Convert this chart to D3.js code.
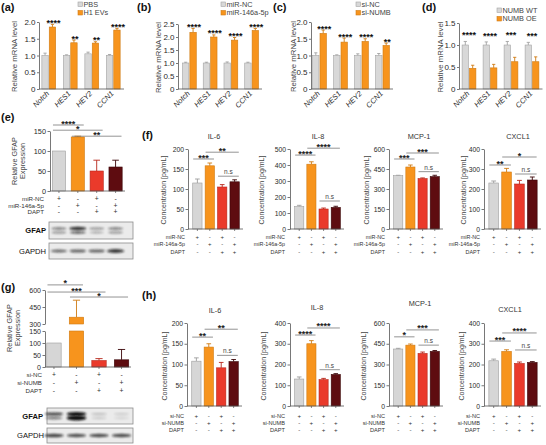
<!DOCTYPE html>
<html><head><meta charset="utf-8">
<script src="https://cdn.jsdelivr.net/npm/d3@7"></script>
<style>body{margin:0;background:#fff}svg{display:block}</style>
</head><body><svg id="c" width="546" height="445"></svg>
<script>
// ================= DATA =================
const genes = ["Notch","HES1","HEY2","CCN1"];
// (a)
const aLegend = ["PBS","H1 EVs"];
const aCtrl = [1.00,1.00,1.05,1.00], aCtrlErr = [0.07,0.02,0.05,0.03];
const aTreat = [1.85,1.38,1.37,1.76], aTreatErr = [0.08,0.08,0.04,0.05];
const aStars = ["****","**","**","****"];
const aTicks = [0,0.5,1.0,1.5,2.0];
// (b)
const bLegend = ["miR-NC","miR-146a-5p"];
const bCtrl = [1,1,1,1], bCtrlErr = [0.03,0.03,0.04,0.03];
const bTreat = [2.18,2.00,1.88,2.25], bTreatErr = [0.15,0.08,0.10,0.08];
const bStars = ["****","****","****","****"];
const bTicks = [0,0.5,1.0,1.5,2.0,2.5];
// (c)
const cLegend = ["si-NC","si-NUMB"];
const cCtrl = [1,1,1,1], cCtrlErr = [0.08,0.02,0.05,0.06];
const cTreat = [1.66,1.40,1.42,1.30], cTreatErr = [0.10,0.12,0.08,0.07];
const cStars = ["****","****","****","**"];
const cTicks = [0,0.5,1.0,1.5,2.0];
// (d)
const dLegend = ["NUMB WT","NUMB OE"];
const dCtrl = [1,1,1,1], dCtrlErr = [0.08,0.07,0.08,0.06];
const dTreat = [0.47,0.48,0.62,0.62], dTreatErr = [0.07,0.08,0.10,0.11];
const dStars = ["****","****","***","***"];
const dTicks = [0,0.5,1.0,1.5];

// conditions
const mirRows = ["miR-NC","miR-146a-5p","DAPT"];
const siRows = ["si-NC","si-NUMB","DAPT"];
const condSigns = [["+","-","+","-"],["-","+","-","+"],["-","-","+","+"]];

// (e) GFAP
const eVals = [100,135,50,60], eErrs = [0,2,27,17];
const eTicks = [0,50,100,150];
const eSigs = [{a:0,b:1,at:165,t:"****"},{a:0,b:2,at:152,t:"*"},{a:1,b:3,at:137,t:"**"}];
const eGfapUpper = [0.55,0.85,0.45,0.55], eGfapLower = [0.45,0.7,0.35,0.45];
const eGapdh = [0.6,0.62,0.62,0.8];

// (f)
const fTitles = ["IL-6","IL-8","MCP-1","CXCL1"];
const fVals = [[115,158,105,118],[140,405,125,135],[400,465,378,393],[230,285,225,245]];
const fErrs = [[10,7,6,5],[8,15,6,7],[3,15,5,10],[10,18,18,15]];
const fMax = [200,500,600,400];
const fTicks = [[0,50,100,150,200],[0,100,200,300,400,500],[0,150,300,450,600],[0,100,200,300,400]];
const fSigs = [
  [{a:0,b:1,at:175,t:"***"},{a:1,b:3,at:192,t:"**"},{a:2,b:3,at:132,t:"n.s"}],
  [{a:0,b:1,at:462,t:"****"},{a:1,b:3,at:505,t:"****"},{a:2,b:3,at:175,t:"n.s"}],
  [{a:0,b:1,at:525,t:"***"},{a:1,b:3,at:570,t:"***"},{a:2,b:3,at:430,t:"n.s"}],
  [{a:0,b:1,at:320,t:"**"},{a:1,b:3,at:360,t:"*"},{a:2,b:3,at:275,t:"n.s"}]];

// (g)
const gVals = [100,360,27,30], gErrs = [0,150,8,43];
const gLowTicks = [0,50,100,150], gHighTicks = [300,450,600];
const gSigs = [{a:0,b:1,at:645,t:"*"},{a:0,b:2,at:582,t:"***"},{a:1,b:3,at:538,t:"*"}];
const gGfapUpper = [0.75,1.0,0.22,0.15], gGfapLower = [0.5,1.0,0.15,0.1];
const gGapdh = [0.75,0.7,0.72,0.72];

// (h)
const hTitles = ["IL-6","IL-8","MCP-1","CXCL1"];
const hVals = [[108,142,92,107],[130,300,127,152],[412,440,380,395],[218,263,205,210]];
const hErrs = [[8,8,13,5],[10,15,6,4],[5,8,10,6],[8,8,7,4]];
const hMax = [200,400,600,400];
const hTicks = [[0,50,100,150,200],[0,100,200,300,400],[0,150,300,450,600],[0,100,200,300,400]];
const hSigs = [
  [{a:0,b:1,at:166,t:"**"},{a:1,b:3,at:185,t:"**"},{a:2,b:3,at:122,t:"n.s"}],
  [{a:0,b:1,at:342,t:"****"},{a:1,b:3,at:376,t:"****"},{a:2,b:3,at:175,t:"n.s"}],
  [{a:0,b:1,at:500,t:"*"},{a:1,b:3,at:550,t:"***"},{a:2,b:3,at:440,t:"n.s"}],
  [{a:0,b:1,at:313,t:"***"},{a:1,b:3,at:352,t:"****"},{a:2,b:3,at:270,t:"n.s"}]];

// ================= STYLE =================
const FONT = '"Liberation Sans", Arial, Helvetica, sans-serif';
const TXT = "#2a2a2a", AX = "#555";
const pairFill = ["#d8d8d8","#f7941d"], pairStroke = ["#a3a3a3","#cf7a12"];
const grpFill = ["#d6d6d6","#f7941d","#ea3a2b","#5e0c10"];
const grpStroke = ["#9d9d9d","#cf7a12","#b8271b","#3a0508"];

const svg = d3.select("#c").style("font-family", FONT);
const defs = svg.append("defs");
defs.append("filter").attr("id","blur").attr("x","-50%").attr("y","-200%").attr("width","200%").attr("height","500%")
  .append("feGaussianBlur").attr("stdDeviation",1.1);

function styleAxis(a, fs) {
  a.select(".domain").attr("stroke", AX).attr("stroke-width", 0.8);
  a.selectAll(".tick line").attr("stroke", AX).attr("stroke-width", 0.8);
  a.selectAll(".tick text").attr("fill", TXT).attr("font-size", fs).attr("font-family", FONT);
}
function letter(t, x, y) {
  svg.append("text").attr("x", x).attr("y", y).attr("font-size", 11).attr("font-weight", "bold")
    .attr("fill", "#111").text(t);
}
function yTitle(lines, x, y, fs) {
  const t = svg.append("text").attr("transform", `translate(${x},${y}) rotate(-90)`)
    .attr("text-anchor", "middle").attr("font-size", fs).attr("fill", "#444");
  lines.forEach((l, i) => t.append("tspan").attr("x", 0).attr("dy", i === 0 ? -(lines.length - 1) * fs * 0.55 : fs * 1.1).text(l));
}

// ---------- gene panels (a-d) ----------
function genePanel(o) {
  const g = svg.append("g");
  const x = d3.scaleBand().domain(genes).range(o.xr);
  const y = d3.scaleLinear().domain([0, o.max]).range([o.y0, o.yTop]);
  const bw = 6.4, gap = 1;
  const recs = [];
  genes.forEach((gn, i) => {
    const c = x(gn) + x.bandwidth() / 2;
    recs.push({k:0, i, x: c - gap / 2 - bw, v: o.ctrl[i], e: o.ctrlErr[i]});
    recs.push({k:1, i, x: c + gap / 2, v: o.treat[i], e: o.treatErr[i]});
  });
  g.selectAll("line.err").data(recs).join("line")
    .attr("x1", d => d.x + bw / 2).attr("x2", d => d.x + bw / 2)
    .attr("y1", d => y(d.v)).attr("y2", d => y(d.v + d.e))
    .attr("stroke", d => pairStroke[d.k]).attr("stroke-width", 0.9);
  g.selectAll("line.cap").data(recs).join("line")
    .attr("x1", d => d.x + bw / 2 - 1.6).attr("x2", d => d.x + bw / 2 + 1.6)
    .attr("y1", d => y(d.v + d.e)).attr("y2", d => y(d.v + d.e))
    .attr("stroke", d => pairStroke[d.k]).attr("stroke-width", 0.9);
  g.selectAll("rect.bar").data(recs).join("rect")
    .attr("x", d => d.x).attr("width", bw)
    .attr("y", d => y(d.v)).attr("height", d => y(0) - y(d.v))
    .attr("fill", d => pairFill[d.k]).attr("stroke", d => pairStroke[d.k]).attr("stroke-width", 0.6);
  g.selectAll("text.star").data(genes).join("text")
    .attr("x", (gn, i) => {
      const c = x(gn) + x.bandwidth() / 2;
      return (o.treat[i] >= o.ctrl[i] ? c + gap / 2 + bw / 2 + 1 : c);
    })
    .attr("y", (gn, i) => Math.min(y(o.ctrl[i] + o.ctrlErr[i]), y(o.treat[i] + o.treatErr[i])) + o.starDy)
    .attr("text-anchor", "middle").attr("font-size", 9).attr("font-weight", "bold").attr("fill", "#111")
    .text((gn, i) => o.stars[i]);
  const a = g.append("g").attr("transform", `translate(${o.ax},0)`)
    .call(d3.axisLeft(y).tickValues(o.ticks).tickSize(2).tickSizeOuter(0).tickPadding(1.5)
      .tickFormat(d => d === 0 ? "0" : d3.format(".1f")(d)));
  styleAxis(a, 8);
  g.append("line").attr("x1", o.ax).attr("x2", o.xr[1]).attr("y1", o.y0).attr("y2", o.y0)
    .attr("stroke", AX).attr("stroke-width", 0.8);
  g.selectAll("text.xl").data(genes).join("text")
    .attr("transform", gn => `translate(${x(gn) + x.bandwidth() / 2 + 1},${o.y0 + 5}) rotate(-45)`)
    .attr("text-anchor", "end").attr("font-size", 7.5).attr("font-style", "italic").attr("fill", TXT)
    .text(gn => gn);
  o.legend.forEach((l, k) => {
    g.append("rect").attr("x", o.lx).attr("y", o.ly + k * 8.5).attr("width", 4.5).attr("height", 4.5)
      .attr("fill", pairFill[k]).attr("stroke", pairStroke[k]).attr("stroke-width", 0.6);
    g.append("text").attr("x", o.lx + 5.5).attr("y", o.ly + k * 8.5 + 4.8).attr("font-size", 7.3)
      .attr("fill", "#444").text(l);
  });
  yTitle(["Relative mRNA level"], o.ytx, (o.y0 + o.yTop) / 2 + 1, 7.8);
}

// ---------- four-bar panels (e-h) ----------
function quad(o) {
  const g = svg.append("g");
  const x = d3.scaleBand().domain(d3.range(4)).range(o.xr).paddingInner(o.pi).paddingOuter(o.po);
  const bw = x.bandwidth();
  const cx = i => x(i) + bw / 2;
  let y, axes, segs = [];
  if (o.broken) {
    const b = o.broken;
    const yl = d3.scaleLinear().domain([0, b.lowMax]).range([o.y0, b.lowTop]);
    const yh = d3.scaleLinear().domain([b.highMin, b.highMax]).range([b.highBot, b.highTop]);
    y = v => v <= b.lowMax ? yl(v) : yh(v);
    axes = [[yl, b.lowTicks], [yh, b.highTicks]];
    o.vals.forEach((v, i) => {
      if (v > b.lowMax) {
        segs.push({i, y1: yl(b.lowMax), y2: o.y0});
        segs.push({i, y1: yh(v), y2: b.highBot});
      } else segs.push({i, y1: yl(v), y2: o.y0});
    });
  } else {
    const ys = d3.scaleLinear().domain([0, o.max]).range([o.y0, o.yTop]);
    y = ys; axes = [[ys, o.ticks]];
    o.vals.forEach((v, i) => segs.push({i, y1: ys(v), y2: o.y0}));
  }
  const recs = o.vals.map((v, i) => ({i, v, e: o.errs[i]})).filter(d => d.e > 0);
  g.selectAll("line.err").data(recs).join("line")
    .attr("x1", d => cx(d.i)).attr("x2", d => cx(d.i)).attr("y1", d => y(d.v)).attr("y2", d => y(d.v + d.e))
    .attr("stroke", d => grpStroke[d.i]).attr("stroke-width", 0.9);
  g.selectAll("line.cap").data(recs).join("line")
    .attr("x1", d => cx(d.i) - bw * 0.25).attr("x2", d => cx(d.i) + bw * 0.25)
    .attr("y1", d => y(d.v + d.e)).attr("y2", d => y(d.v + d.e))
    .attr("stroke", d => grpStroke[d.i]).attr("stroke-width", 0.9);
  g.selectAll("rect.bar").data(segs).join("rect")
    .attr("x", d => x(d.i)).attr("width", bw).attr("y", d => d.y1).attr("height", d => d.y2 - d.y1)
    .attr("fill", d => grpFill[d.i]).attr("stroke", d => grpStroke[d.i]).attr("stroke-width", 0.6);
  axes.forEach(([s, t]) => {
    const a = g.append("g").attr("transform", `translate(${o.ax},0)`)
      .call(d3.axisLeft(s).tickValues(t).tickSize(2.5).tickSizeOuter(0).tickPadding(1.5));
    styleAxis(a, o.fs);
  });
  g.append("line").attr("x1", o.ax).attr("x2", o.xr[1]).attr("y1", o.y0).attr("y2", o.y0)
    .attr("stroke", AX).attr("stroke-width", 0.8);
  g.selectAll("line.xt").data(d3.range(4)).join("line")
    .attr("x1", cx).attr("x2", cx).attr("y1", o.y0).attr("y2", o.y0 + 2).attr("stroke", AX).attr("stroke-width", 0.7);
  o.sigs.forEach(s => {
    const x1 = cx(s.a) - bw * 0.45, x2 = cx(s.b) + bw * 0.45, yy = y(s.at);
    g.append("line").attr("x1", x1).attr("x2", x2).attr("y1", yy).attr("y2", yy)
      .attr("stroke", "#666").attr("stroke-width", 0.7);
    const ns = s.t === "n.s";
    g.append("text").attr("x", (x1 + x2) / 2).attr("y", ns ? yy - 2 : yy + 1.5)
      .attr("text-anchor", "middle").attr("font-size", ns ? 6.5 : 9).attr("font-weight", ns ? "normal" : "bold")
      .attr("fill", ns ? "#444" : "#222").text(s.t);
  });
  o.rows.forEach((r, k) => {
    const yy = o.rowY + k * o.rowDy;
    g.append("text").attr("x", o.rowX).attr("y", yy).attr("text-anchor", "end")
      .attr("font-size", o.rowFs).attr("fill", "#333").text(r);
    g.selectAll(null).data(condSigns[k]).join("text")
      .attr("x", (d, i) => cx(i)).attr("y", yy).attr("text-anchor", "middle")
      .attr("font-size", o.rowFs + 0.6).attr("fill", "#333").text(d => d);
  });
  if (o.title) g.append("text").attr("x", o.tx).attr("y", o.ty).attr("text-anchor", "middle")
    .attr("font-size", 7.3).attr("fill", "#333").text(o.title);
  yTitle(o.ylab, o.ytx, o.yty, o.yfs);
  return cx;
}

// ---------- western blot ----------
function blot(o) {
  const g = svg.append("g");
  g.append("rect").attr("x", o.x0).attr("y", o.y0).attr("width", o.x1 - o.x0).attr("height", o.y1 - o.y0)
    .attr("fill", "#ebebeb").attr("stroke", "#8c8c8c").attr("stroke-width", 0.8);
  o.bands.forEach(b => {
    g.selectAll(null).data(b.vals).join("ellipse")
      .attr("cx", (d, i) => o.lanes[i]).attr("cy", b.cy)
      .attr("rx", d => o.rx * (0.8 + 0.3 * d)).attr("ry", d => b.ry * (0.7 + 0.8 * d * d))
      .attr("fill", "#111").attr("opacity", d => d).attr("filter", "url(#blur)");
  });
  g.append("text").attr("x", o.lx).attr("y", (o.y0 + o.y1) / 2 + 2.6).attr("text-anchor", "end")
    .attr("font-size", 7.6).attr("font-weight", o.bold ? "bold" : "normal").attr("fill", "#111").text(o.label);
}

// ================= DRAW =================
letter("(a)", 1, 11); letter("(b)", 137, 11); letter("(c)", 273, 11); letter("(d)", 422, 11);
letter("(e)", 1, 121); letter("(f)", 142, 139); letter("(g)", 1, 291); letter("(h)", 142, 299);

genePanel({xr:[38,124], ax:39, y0:89, yTop:22, max:2.0, ticks:aTicks, ctrl:aCtrl, ctrlErr:aCtrlErr,
  treat:aTreat, treatErr:aTreatErr, stars:aStars, legend:aLegend, lx:78, ly:2, ytx:17, starDy:1.5});
genePanel({xr:[179,262], ax:178, y0:89, yTop:24, max:2.5, ticks:bTicks, ctrl:bCtrl, ctrlErr:bCtrlErr,
  treat:bTreat, treatErr:bTreatErr, stars:bStars, legend:bLegend, lx:221, ly:2, ytx:161, starDy:1.5});
genePanel({xr:[309,393], ax:311, y0:89, yTop:22, max:2.0, ticks:cTicks, ctrl:cCtrl, ctrlErr:cCtrlErr,
  treat:cTreat, treatErr:cTreatErr, stars:cStars, legend:cLegend, lx:356, ly:2, ytx:296, starDy:1.5});
genePanel({xr:[458.5,542.5], ax:459, y0:89, yTop:23, max:1.5, ticks:dTicks, ctrl:dCtrl, ctrlErr:dCtrlErr,
  treat:dTreat, treatErr:dTreatErr, stars:dStars, legend:dLegend, lx:497, ly:8, ytx:443, starDy:-3});

// (e)
const eCx = quad({xr:[49.5,125], pi:0.3, po:0.15, ax:50, y0:191, yTop:131, max:150, ticks:eTicks,
  vals:eVals, errs:eErrs, sigs:eSigs, rows:mirRows, rowY:201, rowDy:6.5, rowX:44, rowFs:6.2, fs:7.3,
  ylab:["Relative GFAP","Expression"], ytx:21, yty:161, yfs:7.3});
blot({x0:49, x1:133, y0:222, y1:239, lanes:d3.range(4).map(eCx), rx:8, label:"GFAP", lx:46, bold:true,
  bands:[{cy:228.5, ry:1.3, vals:eGfapUpper},{cy:232.5, ry:1.1, vals:eGfapLower}]});
blot({x0:49, x1:133, y0:243, y1:259, lanes:d3.range(4).map(eCx), rx:8.5, label:"GAPDH", lx:46,
  bands:[{cy:251, ry:1.6, vals:eGapdh}]});

// (f)
const fAx = [188, 290, 389, 484], fEnd = [243, 344, 443, 541];
const fTx = [214, 318, 419, 518], fYt = [166, 264, 369, 466];
const fRowX = [185, 285, 385, 480];
fTitles.forEach((t, k) => quad({xr:[fAx[k] + 1, fEnd[k]], pi:0.25, po:0.3, ax:fAx[k], y0:229, yTop:149,
  max:fMax[k], ticks:fTicks[k], vals:fVals[k], errs:fErrs[k], sigs:fSigs[k], rows:mirRows,
  rowY:239, rowDy:7.3, rowX:fRowX[k], rowFs:5.4, fs:6.8, title:t, tx:fTx[k], ty:139,
  ylab:["Concentration [pg/mL]"], ytx:fYt[k], yty:190, yfs:7}));

// (g)
const gCx = quad({xr:[44.5,131], pi:0.36, po:0.1, ax:45, y0:367, broken:{lowMax:150, lowTop:331,
  highMin:300, highMax:600, highBot:324, highTop:290, lowTicks:gLowTicks, highTicks:gHighTicks},
  vals:gVals, errs:gErrs, sigs:gSigs, rows:siRows, rowY:377, rowDy:8, rowX:42, rowFs:6.2, fs:7,
  ylab:["Relative GFAP","Expression"], ytx:16, yty:328, yfs:7.3});
blot({x0:47, x1:133, y0:408, y1:424, lanes:d3.range(4).map(gCx), rx:9, label:"GFAP", lx:43, bold:true,
  bands:[{cy:414, ry:1.4, vals:gGfapUpper},{cy:418, ry:1.6, vals:gGfapLower}]});
blot({x0:47, x1:133, y0:428, y1:443, lanes:d3.range(4).map(gCx), rx:9.5, label:"GAPDH", lx:44,
  bands:[{cy:435.5, ry:1.5, vals:gGapdh}]});

// (h)
const hAx = [187, 290, 389, 484], hEnd = [242, 344, 443, 541];
const hTx = [215, 317, 420, 510], hTy = [313, 310, 306, 312], hYt = [167, 266, 366, 464];
const hRowX = [184, 285, 385, 480];
hTitles.forEach((t, k) => quad({xr:[hAx[k] + 1, hEnd[k]], pi:0.25, po:0.3, ax:hAx[k], y0:406, yTop:323,
  max:hMax[k], ticks:hTicks[k], vals:hVals[k], errs:hErrs[k], sigs:hSigs[k], rows:siRows,
  rowY:418, rowDy:7.2, rowX:hRowX[k], rowFs:5.6, fs:6.8, title:t, tx:hTx[k], ty:hTy[k],
  ylab:["Concentration [pg/mL]"], ytx:hYt[k], yty:366, yfs:7}));
</script></body></html>
